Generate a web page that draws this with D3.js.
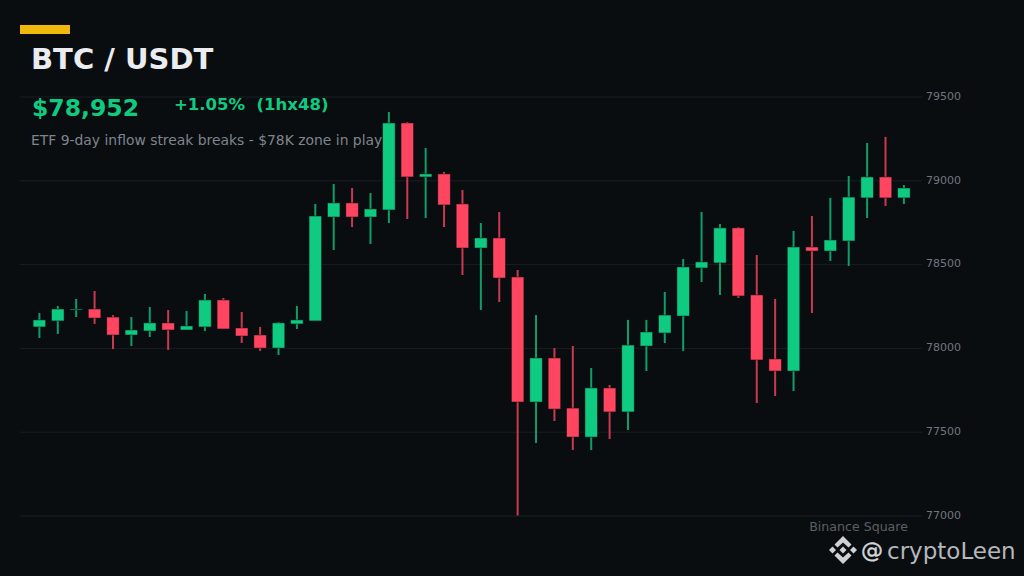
<!DOCTYPE html>
<html>
<head>
<meta charset="utf-8">
<script src="https://cdn.jsdelivr.net/npm/d3@7"></script>
<style>
  html, body { margin: 0; padding: 0; background: #0a0d10; }
  svg { display: block; font-family: "DejaVu Sans", sans-serif; }
</style>
</head>
<body>
<div id="chart"></div>
<script>
const width = 1024;
const height = 576;

// one entry per 1h candle
const opens = [78125, 78161, 78226, 78232, 78184, 78077, 78101, 78149, 78107, 78125, 78286, 78119,
  78077, 77999, 78143, 78161, 78781, 78865, 78781, 78823, 79342, 79020, 79038, 78859,
  78596, 78656, 78423, 77677, 77940, 77641, 77468, 77761, 77618, 78011, 78089, 78190,
  78477, 78507, 78716, 78316, 77934, 77862, 78602, 78578, 78638, 78895, 79020, 78895];
const closes = [78167, 78232, 78232, 78178, 78077, 78107, 78149, 78107, 78131, 78286, 78113, 78071,
  77999, 78149, 78167, 78787, 78865, 78781, 78829, 79342, 79020, 79038, 78853, 78596,
  78656, 78417, 77677, 77940, 77635, 77468, 77761, 77618, 78017, 78095, 78196, 78483,
  78513, 78716, 78310, 77928, 77862, 78602, 78578, 78644, 78900, 79020, 78895, 78954];
const highs = [78208, 78250, 78292, 78340, 78196, 78184, 78244, 78226, 78220, 78322, 78298, 78214,
  78125, 78155, 78250, 78859, 78978, 78954, 78924, 79408, 79348, 79193, 79050, 78942,
  78745, 78811, 78465, 78196, 77999, 78011, 77880, 77779, 78167, 78167, 78334, 78531,
  78811, 78739, 78721, 78554, 78292, 78698, 78787, 78895, 79026, 79223, 79259, 78972];
const lows = [78059, 78083, 78184, 78143, 77993, 78011, 78065, 77988, 78107, 78101, 78113, 78029,
  77982, 77958, 78113, 78161, 78584, 78721, 78620, 78745, 78769, 78775, 78721, 78435,
  78226, 78274, 77000, 77433, 77564, 77391, 77391, 77456, 77510, 77862, 78029, 77982,
  78393, 78316, 78298, 77671, 77713, 77743, 78208, 78519, 78489, 78775, 78847, 78859];
const priceTicks = [77000, 77500, 78000, 78500, 79000, 79500];

const up = "#0ecb81";
const down = "#ff4560";
const upWick = "#0f9d68";
const downWick = "#c93a50";
const bodyWidth = 12.5;

const candles = opens.map((o, i) => ({i, o, c: closes[i], h: highs[i], l: lows[i]}));

const svg = d3.select("#chart")
  .append("svg")
  .attr("width", width)
  .attr("height", height);

svg.append("rect")
  .attr("width", width)
  .attr("height", height)
  .attr("fill", "#0a0d10");

const x = d3.scalePoint()
  .domain(candles.map(d => d.i))
  .range([39.4, 903.9]);

const y = d3.scaleLinear()
  .domain([77000, 79500])
  .range([515.5, 96.5]);

// grid + price labels
const axis = svg.append("g")
  .attr("transform", "translate(20, 0)")
  .call(d3.axisRight(y)
    .tickValues(priceTicks)
    .tickSize(902)
    .tickPadding(5)
    .tickFormat(d3.format("d")));

axis.select(".domain").remove();
axis.selectAll("line")
  .attr("stroke", "#191d22")
  .attr("stroke-width", 1);
axis.selectAll("text")
  .attr("fill", "#71767e")
  .attr("dx", -1)
  .attr("dy", "0.25em")
  .style("font-size", "11px")
  .style("font-family", "'DejaVu Sans', sans-serif");

// candles
const candle = svg.selectAll(".candle")
  .data(candles)
  .enter()
  .append("g")
  .attr("class", "candle");

candle.append("line")
  .attr("x1", d => x(d.i))
  .attr("x2", d => x(d.i))
  .attr("y1", d => y(d.h))
  .attr("y2", d => y(d.l))
  .attr("stroke", d => d.c >= d.o ? upWick : downWick)
  .attr("stroke-width", 2);

candle.append("rect")
  .attr("x", d => x(d.i) - bodyWidth / 2)
  .attr("y", d => y(Math.max(d.o, d.c)))
  .attr("width", bodyWidth)
  .attr("height", d => Math.max(1, Math.abs(y(d.o) - y(d.c))))
  .attr("fill", d => d.c >= d.o ? up : down)
  .attr("stroke", "#0a0d10")
  .attr("stroke-opacity", 0.6)
  .attr("stroke-width", 0.8);

// header
svg.append("rect")
  .attr("x", 20)
  .attr("y", 25)
  .attr("width", 50)
  .attr("height", 9)
  .attr("fill", "#f0b90b");

svg.append("text")
  .attr("x", 31)
  .attr("y", 69)
  .attr("fill", "#eaecef")
  .style("font-size", "29px")
  .style("font-weight", "bold")
  .text("BTC / USDT");

svg.append("text")
  .attr("x", 32)
  .attr("y", 116)
  .attr("fill", up)
  .style("font-size", "23.5px")
  .style("font-weight", "bold")
  .text("$78,952");

svg.append("text")
  .attr("x", 174)
  .attr("y", 110)
  .attr("fill", up)
  .style("white-space", "pre")
  .style("font-size", "16.5px")
  .style("font-weight", "bold")
  .text("+1.05%  (1hx48)");

svg.append("text")
  .attr("x", 31)
  .attr("y", 145)
  .attr("fill", "#7f858e")
  .style("font-size", "13.9px")
  .text("ETF 9-day inflow streak breaks - $78K zone in play");

// watermark
svg.append("text")
  .attr("x", 908)
  .attr("y", 531)
  .attr("text-anchor", "end")
  .attr("fill", "#5a5f66")
  .style("font-size", "12.6px")
  .text("Binance Square");

const logo = svg.append("g")
  .attr("transform", "translate(843, 550)")
  .attr("fill", "#cfd1d4");

logo.append("path").attr("d", "M0,-14 L8.5,-5.5 L5.5,-2.5 L0,-7.5 L-5.5,-2.5 L-8.5,-5.5 Z");
logo.append("path").attr("d", "M0,14 L8.5,5.5 L5.5,2.5 L0,7.5 L-5.5,2.5 L-8.5,5.5 Z");
logo.append("path").attr("d", "M-14,0 L-10.5,-3.5 L-7,0 L-10.5,3.5 Z");
logo.append("path").attr("d", "M14,0 L10.5,-3.5 L7,0 L10.5,3.5 Z");
logo.append("path").attr("d", "M0,-3.5 L3.5,0 L0,3.5 L-3.5,0 Z");

svg.append("text")
  .attr("x", 861)
  .attr("y", 558)
  .attr("fill", "#d4d6d8")
  .attr("stroke", "#d4d6d8")
  .attr("stroke-width", 0.4)
  .style("font-size", "22px")
  .text("@");

svg.append("text")
  .attr("x", 887)
  .attr("y", 559)
  .attr("fill", "#b4b7bb")
  .style("font-size", "23px")
  .text("cryptoLeen");
</script>
</body>
</html>
